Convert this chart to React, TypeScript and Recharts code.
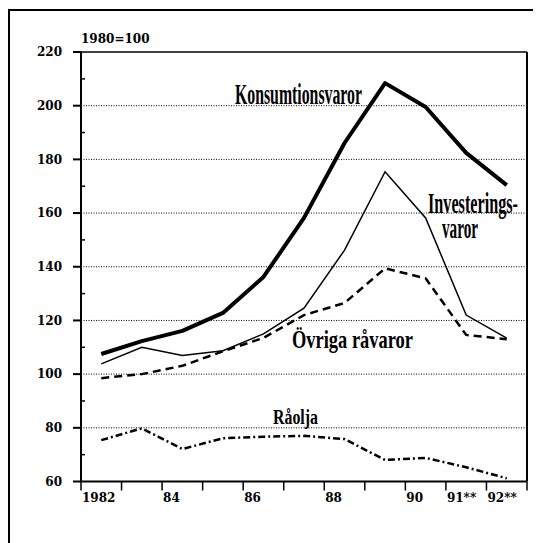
import { LineChart, Line, XAxis, YAxis, ReferenceLine } from 'recharts';

// index 1980=100, yearly values 1982-1992 (91 and 92 are forecasts)
const years = [1982, 1983, 1984, 1985, 1986, 1987, 1988, 1989, 1990, 1991, 1992];
const konsumtionsvaror = [107.5, 112.3, 116.1, 122.8, 136.2, 158.2, 186.1, 208.4, 199.5, 182.4, 170.4];
const investeringsvaror = [103.8, 110, 106.9, 108.7, 115, 124.6, 146.2, 175.4, 158.2, 122, 113.4];
const ovrigaRavaror = [98.5, 100, 103.1, 108.5, 113.5, 122, 126.5, 139.4, 135.7, 114.6, 113];
const raolja = [75.4, 79.8, 72.1, 76.1, 76.7, 77, 75.8, 68, 68.8, 65.3, 61.2];

// tick marks sit between the years, the label starts just right of its mark
const xTicks = [1981.5, 1982.5, 1983.5, 1984.5, 1985.5, 1986.5, 1987.5, 1988.5, 1989.5, 1990.5, 1991.5, 1992.5];
const xTickLabels = ['1982', '', '84', '', '86', '', '88', '', '90', '91**', '92**', ''];
const yTicks = [60, 70, 80, 90, 100, 110, 120, 130, 140, 150, 160, 170, 180, 190, 200, 210, 220];
const gridValues = [80, 100, 120, 140, 160, 180, 200];

const data = years.map((year, i) => ({
  year,
  konsum: konsumtionsvaror[i],
  invest: investeringsvaror[i],
  ovriga: ovrigaRavaror[i],
  raolja: raolja[i],
}));

const tickFont = { fontFamily: 'DejaVu Serif', fontWeight: 700, fontSize: 12, fill: '#000' };

// tall, condensed series names written on the chart
function SeriesLabel({ x, y, size, stretch, width, text }: any) {
  return (
    <text
      transform={`translate(${x},${y}) scale(1,${stretch})`}
      fontFamily="Liberation Serif"
      fontWeight={700}
      fontSize={size}
      textLength={width}
      lengthAdjust="spacingAndGlyphs"
      fill="#000"
    >
      {text}
    </text>
  );
}

function LeftTick(props: any) {
  const { x, y, payload } = props;
  const v = payload.value as number;
  if (v % 20 !== 0) {
    return <line x1={x} x2={x + 4} y1={y} y2={y} stroke="#000" strokeWidth={1.5} />;
  }
  return (
    <g>
      <line x1={x - 8} x2={x} y1={y} y2={y} stroke="#000" strokeWidth={2} />
      <text x={x - 19} y={y} dy="0.36em" textAnchor="end" {...tickFont}>
        {v}
      </text>
    </g>
  );
}

function RightTick(props: any) {
  const { x, y, payload } = props;
  if (payload.value === 60 || payload.value === 220) return <g />;
  return <line x1={x - 5} x2={x} y1={y} y2={y} stroke="#000" strokeWidth={1.5} />;
}

function BottomTick(props: any) {
  const { x, y, index } = props;
  const label = xTickLabels[index];
  return (
    <g>
      <line x1={x} x2={x} y1={y} y2={y + 9} stroke="#000" strokeWidth={1.5} />
      {label && (
        <text x={x + 1} y={y + 20} textAnchor="start" {...tickFont}>
          {label}
        </text>
      )}
    </g>
  );
}

export default function App() {
  return (
    <div style={{ position: 'relative', width: 533, height: 535, background: '#fff' }}>
      <div
        style={{
          position: 'absolute',
          left: 0,
          top: 1,
          width: 533,
          height: 534,
          borderLeft: '2px solid #000',
          borderTop: '2px solid #000',
          boxSizing: 'border-box',
        }}
      />
      <div style={{ position: 'absolute', left: 0, top: 0 }}>
        <LineChart width={533} height={535} data={data} margin={{ top: 44, right: 10, bottom: 31.5, left: 13 }}>
          <XAxis
            dataKey="year"
            type="number"
            domain={[1981.5, 1992.5]}
            ticks={xTicks}
            interval={0}
            allowDecimals
            height={30}
            tickSize={0}
            tickMargin={0}
            tickLine={false}
            axisLine={{ stroke: '#000', strokeWidth: 2 }}
            tick={BottomTick}
          />
          <YAxis
            yAxisId="l"
            domain={[60, 220]}
            ticks={yTicks}
            interval={0}
            width={60}
            tickSize={0}
            tickMargin={0}
            tickLine={false}
            axisLine={{ stroke: '#000', strokeWidth: 2 }}
            tick={LeftTick}
          />
          <YAxis
            yAxisId="r"
            orientation="right"
            domain={[60, 220]}
            ticks={yTicks}
            interval={0}
            width={4}
            tickSize={0}
            tickMargin={0}
            tickLine={false}
            axisLine={{ stroke: '#000', strokeWidth: 2 }}
            tick={RightTick}
          />
          {gridValues.map((v) => (
            <ReferenceLine key={v} yAxisId="l" y={v} stroke="#000" strokeWidth={1} strokeDasharray="1 1.5" />
          ))}
          <ReferenceLine yAxisId="l" y={220} stroke="#000" strokeWidth={1.5} />
          <Line
            yAxisId="l"
            dataKey="konsum"
            stroke="#000"
            strokeWidth={4}
            dot={false}
            strokeLinejoin="round"
            isAnimationActive={false}
          />
          <Line
            yAxisId="l"
            dataKey="invest"
            stroke="#000"
            strokeWidth={1.5}
            dot={false}
            isAnimationActive={false}
          />
          <Line
            yAxisId="l"
            dataKey="ovriga"
            stroke="#000"
            strokeWidth={2.5}
            strokeDasharray="8 5"
            dot={false}
            isAnimationActive={false}
          />
          <Line
            yAxisId="l"
            dataKey="raolja"
            stroke="#000"
            strokeWidth={2.5}
            strokeDasharray="7 3 2 3"
            dot={false}
            isAnimationActive={false}
          />
        </LineChart>
      </div>
      <svg
        width={533}
        height={535}
        style={{ position: 'absolute', left: 0, top: 0, pointerEvents: 'none' }}
      >
        <text x={73} y={35} {...tickFont}>
          1980=100
        </text>
        <SeriesLabel x={227} y={96} size={15.8} stretch={1.85} width={127} text="Konsumtionsvaror" />
        {/* two-line label kept in one text element */}
        <text
          transform="translate(420,205) scale(1,1.85)"
          fontFamily="Liberation Serif"
          fontWeight={700}
          fontSize={16.2}
          fill="#000"
        >
          <tspan x={0} y={0} textLength={90} lengthAdjust="spacingAndGlyphs">
            Investerings-
          </tspan>
          <tspan x={14} y={13.5} textLength={36} lengthAdjust="spacingAndGlyphs">
            varor
          </tspan>
        </text>
        <SeriesLabel x={284} y={340} size={18.4} stretch={1.37} width={121} text="Övriga råvaror" />
        <SeriesLabel x={265} y={416} size={15.9} stretch={1.33} width={45} text="Råolja" />
      </svg>
    </div>
  );
}
